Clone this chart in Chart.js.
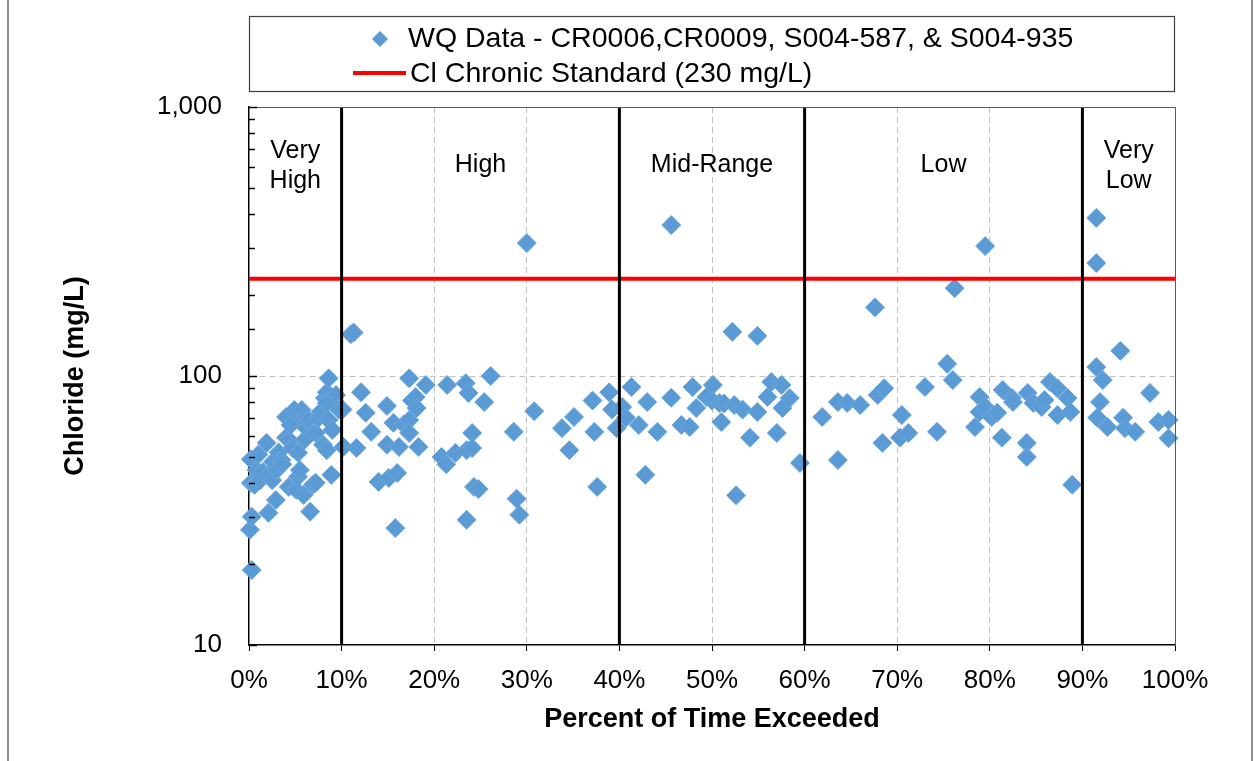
<!DOCTYPE html>
<html>
<head>
<meta charset="utf-8">
<title>Chloride - Percent of Time Exceeded</title>
<script src="https://cdn.jsdelivr.net/npm/chart.js@4.4.1/dist/chart.umd.min.js"></script>
<style>
  html, body { margin: 0; padding: 0; background: #fff; }
  #frame { position: absolute; left: 7px; top: -3px; width: 1242px; height: 770px; border: 2px solid #8c8c8c; }
  #chlorideChart { position: absolute; left: 0; top: 0; }
</style>
</head>
<body>
<div id="frame"></div>
<canvas id="chlorideChart" width="1255" height="761"></canvas>
<script>
// Percent of time exceeded for each sample
const pctExceeded = [
    0.1, 0.2, 0.2, 0.3, 0.3, 0.6, 0.8, 1.0, 1.2, 1.5,
    1.9, 2.1, 2.3, 2.5, 2.6, 2.9, 3.0, 3.2, 3.5, 3.6,
    4.0, 4.0, 4.3, 4.3, 4.5, 4.7, 4.9, 5.1, 5.3, 5.3,
    5.5, 5.7, 5.9, 5.9, 6.0, 6.2, 6.4, 6.6, 6.9, 7.2,
    7.2, 7.5, 7.7, 8.0, 8.2, 8.4, 8.4, 8.4, 8.6, 8.6,
    8.9, 9.0, 9.4, 9.7,
    10.1, 10.2, 11.0, 11.3, 11.6, 12.1, 12.6, 13.2, 14.0, 14.9,
    14.9, 15.1, 15.6, 15.8, 16.0, 16.2, 16.7, 17.3, 17.3, 17.3,
    17.6, 18.0, 18.1, 18.3, 19.1, 20.8, 21.3, 21.4, 22.3, 23.4,
    23.5, 23.5, 23.7, 24.1, 24.1, 24.3, 24.8, 25.4, 26.1, 28.6,
    28.9, 29.2, 30.0, 30.8, 33.8, 34.6, 35.1, 37.1, 37.3, 37.6,
    38.9, 39.2, 39.7,
    40.3, 40.7, 41.3, 42.1, 42.8, 43.0, 44.1, 45.6, 45.6, 46.7,
    47.6, 47.9, 48.3, 49.4, 50.0, 50.1, 50.8, 51.0, 51.3, 52.2,
    52.4, 52.6, 53.3, 54.1, 54.9, 54.9, 56.0, 56.4, 57.0, 57.5,
    57.6, 58.4, 59.5,
    61.9, 63.6, 63.6, 64.6, 66.0, 67.6, 67.9, 68.4, 68.6, 70.3,
    70.5, 71.2, 73.0, 74.3, 75.4, 76.0, 76.2, 78.4, 78.9, 78.9,
    79.5, 79.5, 80.2, 80.8, 81.3, 81.4, 82.4, 82.5, 84.0, 84.0,
    84.1, 84.7, 85.6, 85.9, 86.5, 87.3, 87.3, 88.4, 88.7, 88.9,
    91.5, 91.5, 91.5, 91.6, 91.9, 92.2, 92.7, 94.1, 94.4, 94.6,
    95.7, 97.3, 98.2, 99.3, 99.3
];

// Chloride concentration (mg/L), same order as above
const chlorideMgL = [
    26.8, 49, 40, 30, 19, 39.4, 44.7, 51, 41, 44,
    56.4, 31, 43.6, 41, 48, 34.6, 44.7, 52, 48.7, 47,
    70.4, 59, 38.7, 58, 65.7, 54, 74.8, 37.7, 51.8, 42.2,
    44.7, 74.8, 36.1, 68.6, 58, 64, 68.6, 31.3, 39.4, 61.4,
    40.1, 69.8, 73.5, 55.5, 82.8, 87, 79.4, 53, 98, 68.6,
    42.9, 63, 85, 75,
    75, 54.5, 143, 145, 54, 87, 73, 62, 40.4, 77.4,
    55.5, 41.8, 67, 27.2, 43.6, 54.5, 66, 98, 68.6, 61.4,
    81, 83.5, 76, 54.5, 92.6, 50, 47, 92.6, 51.8, 94,
    53, 29.2, 86.5, 61.4, 54, 38.7, 38, 80, 100, 62,
    35, 30.5, 312, 74, 64, 53, 70.4, 81, 62, 38.7,
    87, 75, 64,
    76.7, 70, 91, 65.7, 42.9, 80, 62, 83, 364, 65.7,
    64.6, 91, 76, 83.5, 81, 92.6, 79.4, 67.4, 79, 146,
    78, 36, 75, 59, 73.5, 141, 83.5, 95, 61.4, 92.6,
    76, 82.8, 47.5,
    70.4, 80, 48.7, 79.4, 78, 180, 85, 56.4, 90, 59,
    71.6, 61.4, 91, 62, 111, 96.6, 212, 64.6, 83.5, 73.5,
    76.7, 304, 70.4, 73, 59, 88.7, 82.8, 80, 56.4, 50,
    86.5, 79.4, 76.7, 81.4, 95, 90, 71.6, 82.8, 73.5, 39.4,
    387, 263, 108, 70, 80, 96.6, 64.6, 124, 70, 64,
    62, 86.5, 67.4, 68.6, 58.7
];

// Flow regime boundaries and names
const rangeBounds = [0, 10, 40, 60, 90, 100];
const rangeNames = [['Very', 'High'], ['High'], ['Mid-Range'], ['Low'], ['Very', 'Low']];

const chronicStandard = 230;
const yLabelValues = [10, 100, 1000];
const dashedX = [20, 30, 50, 70, 80];

const seriesName = 'WQ Data - CR0006,CR0009, S004-587, & S004-935';
const standardName = 'Cl Chronic Standard (230 mg/L)';

const FONT = '"Liberation Sans", Arial, sans-serif';
const BLUE = '#5B9BD5';

// dividers between flow regimes (inner bounds only)
const dividerSets = rangeBounds.slice(1, -1).map(b => ({
    type: 'line',
    data: [{ x: b, y: 10 }, { x: b, y: 1000 }],
    borderColor: '#000',
    borderWidth: 3,
    pointRadius: 0,
    order: 0,
}));

const regimePlugin = {
    id: 'regimes',
    afterDraw(chart) {
        const { ctx, chartArea } = chart;
        const xs = chart.scales.x;
        ctx.save();
        ctx.font = '25px ' + FONT;
        ctx.fillStyle = '#000';
        ctx.textAlign = 'center';
        ctx.textBaseline = 'middle';
        rangeNames.forEach((lines, i) => {
            const mid = (rangeBounds[i] + rangeBounds[i + 1]) / 2;
            const px = xs.getPixelForValue(mid);
            const startY = lines.length > 1 ? 151 : 165;
            lines.forEach((t, j) => ctx.fillText(t, px, startY + j * 30));
        });

        // top/right frame of the plot area
        ctx.strokeStyle = '#595959';
        ctx.lineWidth = 1;
        ctx.beginPath();
        ctx.moveTo(chartArea.left, chartArea.top + 0.5);
        ctx.lineTo(chartArea.right + 0.5, chartArea.top + 0.5);
        ctx.lineTo(chartArea.right + 0.5, chartArea.bottom);
        ctx.stroke();

        // y minor ticks drawn inside the plot
        const ys = chart.scales.y;
        ctx.strokeStyle = '#000';
        ctx.lineWidth = 1.5;
        ys.ticks.forEach(t => {
            const py = Math.round(ys.getPixelForValue(t.value)) + 0.5;
            const len = yLabelValues.includes(t.value) ? 8 : 6;
            ctx.beginPath();
            ctx.moveTo(chartArea.left, py);
            ctx.lineTo(chartArea.left + len, py);
            ctx.stroke();
        });

        // legend box
        ctx.strokeStyle = '#404040';
        ctx.lineWidth = 1.2;
        ctx.strokeRect(249.5, 16.5, 925, 75);
        ctx.font = '28.5px ' + FONT;
        ctx.textAlign = 'left';
        ctx.fillStyle = '#000';
        ctx.fillText(seriesName, 408, 39);
        ctx.fillText(standardName, 410, 74);
        ctx.fillStyle = BLUE;
        ctx.beginPath();
        ctx.moveTo(380, 31); ctx.lineTo(388, 39); ctx.lineTo(380, 47); ctx.lineTo(372, 39);
        ctx.closePath();
        ctx.fill();
        ctx.strokeStyle = '#FF0000';
        ctx.lineWidth = 4;
        ctx.beginPath();
        ctx.moveTo(353, 73); ctx.lineTo(406, 73);
        ctx.stroke();
        ctx.restore();
    }
};

const renderChart = () => {
    const ctx = document.getElementById('chlorideChart').getContext('2d');
    const points = pctExceeded.map((p, i) => ({ x: p, y: chlorideMgL[i] }));

    new Chart(ctx, {
        data: {
            datasets: [
                ...dividerSets,
                {
                    type: 'line',
                    label: standardName,
                    data: [{ x: 0, y: chronicStandard }, { x: 100, y: chronicStandard }],
                    borderColor: '#FF0000',
                    borderWidth: 4,
                    pointRadius: 0,
                    order: 1,
                },
                {
                    type: 'scatter',
                    label: seriesName,
                    data: points,
                    pointStyle: 'rectRot',
                    pointRadius: 9.5,
                    backgroundColor: BLUE,
                    borderColor: '#6FA8DC',
                    borderWidth: 1,
                    clip: false,
                    order: 2,
                },
            ],
        },
        options: {
            responsive: false,
            animation: false,
            devicePixelRatio: 1,
            layout: { padding: { left: 0, top: 107, right: 80, bottom: 0 } },
            plugins: {
                legend: { display: false },
                tooltip: { enabled: false },
            },
            scales: {
                x: {
                    type: 'linear',
                    min: 0,
                    max: 100,
                    afterFit: s => { s.height = 761 - 645; },
                    ticks: {
                        stepSize: 10,
                        color: '#000',
                        font: { family: FONT, size: 26 },
                        padding: 14,
                        callback: v => v + '%',
                    },
                    grid: {
                        color: c => (c.tick && dashedX.includes(c.tick.value)) ? '#BFBFBF' : 'transparent',
                        lineWidth: 1,
                        tickColor: '#000',
                        tickLength: 6,
                    },
                    border: { color: '#000', width: 1.5, dash: [6, 4] },
                    title: {
                        display: true,
                        text: 'Percent of Time Exceeded',
                        color: '#000',
                        font: { family: FONT, size: 27, weight: 'bold' },
                        padding: { top: 0, bottom: 25 },
                    },
                },
                y: {
                    type: 'logarithmic',
                    min: 10,
                    max: 1000,
                    afterFit: s => { s.width = 249; },
                    ticks: {
                        autoSkip: false,
                        color: '#000',
                        font: { family: FONT, size: 26 },
                        padding: 27,
                        callback: v => yLabelValues.includes(v) ? v.toLocaleString('en-US') : '',
                    },
                    grid: {
                        color: c => (c.tick && c.tick.value === 100) ? '#BFBFBF' : 'transparent',
                        drawTicks: false,
                    },
                    border: { color: '#000', width: 1.5, dash: [6, 4] },
                    title: {
                        display: true,
                        text: 'Chloride (mg/L)',
                        color: '#000',
                        font: { family: FONT, size: 27, weight: 'bold' },
                        padding: { top: 59, bottom: 0 },
                    },
                },
            },
        },
        plugins: [regimePlugin],
    });
};

renderChart();
</script>
</body>
</html>
